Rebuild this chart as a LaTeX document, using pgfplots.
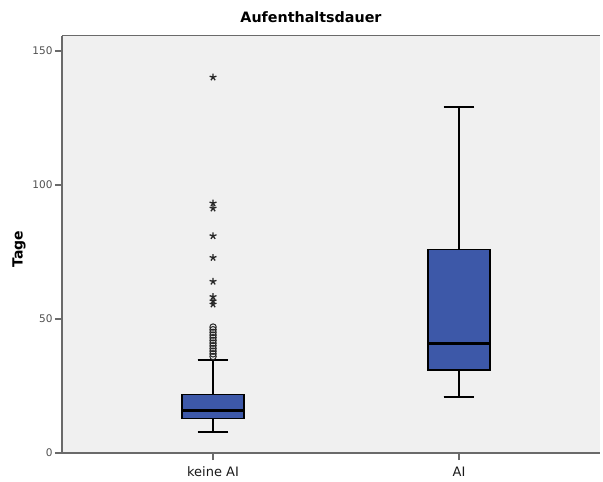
\documentclass[border=0pt]{standalone}
\usepackage{pgfplots}
\pgfplotsset{compat=1.18}
\usepgfplotslibrary{statistics}
\usepackage{fontspec}
\setmainfont{DejaVu Sans}
\definecolor{boxfill}{HTML}{3D58A8}
\definecolor{bggray}{HTML}{F0F0F0}
\definecolor{axgray}{HTML}{6A6A6A}
\definecolor{ticklab}{HTML}{505050}
\begin{document}
\begin{tikzpicture}
\useasboundingbox (0pt,0pt) rectangle (603pt,482pt);
\begin{axis}[
  at={(62pt,29pt)}, anchor=south west,
  scale only axis, width=538pt, height=417pt,
  xmin=0.386, xmax=2.573, ymin=0, ymax=155.6,
  axis background/.style={fill=bggray},
  axis x line=bottom, axis y line=left,
  axis line style={-, draw=axgray, line width=2pt},
  xtick={1,2}, xticklabels={keine AI, AI},
  ytick={0,50,100,150},
  tick align=outside, tick style={draw=axgray, line width=1.2pt},
  major tick length=7pt,
  x tick label style={font=\fontsize{13}{15}\selectfont, text=black!90, yshift=-3.5pt},
  y tick label style={font=\fontsize{10.5}{12}\selectfont, text=ticklab, xshift=1pt},
  /pgf/number format/assume math mode=true,
  clip=false,
  boxplot/draw direction=y,
]
\addplot[fill=boxfill, draw=black, line width=1.6pt, boxplot prepared={draw position=1, median=16, lower quartile=12.8, upper quartile=21.9, lower whisker=7.8, upper whisker=34.8, box extend=0.25, whisker extend=0.125}] coordinates {};
\addplot[fill=boxfill, draw=black, line width=1.6pt, boxplot prepared={draw position=2, median=40.7, lower quartile=31, upper quartile=75.9, lower whisker=20.9, upper whisker=129.1, box extend=0.25, whisker extend=0.125}] coordinates {};
\addplot[black, line width=3pt] coordinates {(0.876,16) (1.124,16)};
\addplot[black, line width=3pt] coordinates {(1.876,40.7) (2.124,40.7)};
\addplot[only marks, mark=o, mark size=3.2pt, mark options={draw=black!85, line width=1pt}] coordinates {
(1,36) (1,37) (1,38) (1,39) (1,40) (1,41) (1,42) (1,43) (1,44) (1,45) (1,46) (1,47)};
\addplot[only marks, mark=star, mark size=3.6pt, mark options={draw=black!85, line width=1.3pt}] coordinates {
(1,55.5) (1,56.7) (1,58.3) (1,64) (1,72.9) (1,81) (1,91.3) (1,93.2) (1,140.2)};
\draw[draw=axgray, line width=1pt] (rel axis cs:0,1) -- (rel axis cs:1,1);
\end{axis}
\node[font=\bfseries\fontsize{14.3}{16}\selectfont] at (311pt,465pt) {Aufenthaltsdauer};
\node[font=\bfseries\fontsize{14}{16}\selectfont, rotate=90] at (19pt,233pt) {Tage};
\end{tikzpicture}
\end{document}
